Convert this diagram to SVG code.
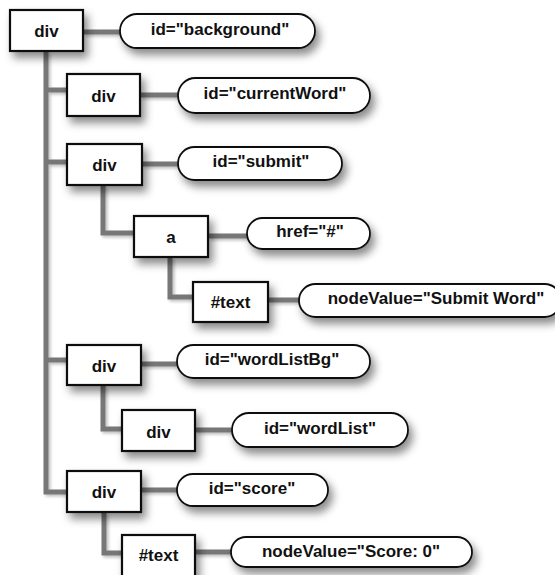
<svg xmlns="http://www.w3.org/2000/svg" width="555" height="575" viewBox="0 0 555 575">
<defs>
<filter id="sh" x="-20%" y="-30%" width="150%" height="190%">
<feDropShadow dx="4" dy="6" stdDeviation="4.5" flood-color="#000" flood-opacity="0.45"/>
</filter>
<filter id="lsh" x="-20%" y="-20%" width="140%" height="140%">
<feDropShadow dx="2" dy="2" stdDeviation="1.5" flood-color="#000" flood-opacity="0.25"/>
</filter>
</defs>
<style>
.box{fill:#fff;stroke:#111;stroke-width:2.2;filter:url(#sh)}
.ov{fill:#fff;stroke:#111;stroke-width:1.8;filter:url(#sh)}
.t{font-family:"Liberation Sans",Arial,sans-serif;font-weight:bold;font-size:17px;fill:#111;text-anchor:middle;dominant-baseline:central}
.c{fill:none;stroke:#777;stroke-width:5;stroke-linejoin:miter}
</style>
<rect width="555" height="575" fill="#fff"/>
<g id="connectors" filter="url(#lsh)">
<path class="c" d="M46,51 V492 H67"/>
<path class="c" d="M46,90 H67"/>
<path class="c" d="M46,162 H67"/>
<path class="c" d="M46,360 H67"/>
<path class="c" d="M83,32 H120"/>
<path class="c" d="M140,95 H178"/>
<path class="c" d="M142,164 H178"/>
<path class="c" d="M103,185 V233 H134"/>
<path class="c" d="M208,236 H247"/>
<path class="c" d="M170,257 V297 H193"/>
<path class="c" d="M268,300 H299"/>
<path class="c" d="M141,364 H177"/>
<path class="c" d="M103,385 V429 H122"/>
<path class="c" d="M195,430 H232"/>
<path class="c" d="M141,490 H177"/>
<path class="c" d="M104,512 V553 H122"/>
<path class="c" d="M195,552 H231"/>
</g>
<g id="n-root"><rect class="box" x="10" y="10" width="73" height="41"/><text class="t" x="46.5" y="31">div</text></g>
<g id="a-background"><rect class="ov" x="120" y="14" width="195" height="34" rx="17"/><text class="t" x="220" y="29">id="background"</text></g>
<g id="n-currentWord"><rect class="box" x="67" y="74" width="73" height="42"/><text class="t" x="103.5" y="96">div</text></g>
<g id="a-currentWord"><rect class="ov" x="178" y="78" width="192" height="35" rx="17.5"/><text class="t" x="275" y="93">id="currentWord"</text></g>
<g id="n-submit"><rect class="box" x="67" y="144" width="75" height="41"/><text class="t" x="104.5" y="165">div</text></g>
<g id="a-submit"><rect class="ov" x="178" y="147" width="164" height="33" rx="16.5"/><text class="t" x="261" y="161">id="submit"</text></g>
<g id="n-a"><rect class="box" x="134" y="216" width="74" height="41"/><text class="t" x="171" y="237">a</text></g>
<g id="a-href"><rect class="ov" x="247" y="218" width="123" height="31" rx="15.5"/><text class="t" x="310" y="231">href="#"</text></g>
<g id="n-text1"><rect class="box" x="193" y="282" width="75" height="40"/><text class="t" x="230.5" y="302">#text</text></g>
<g id="a-nodeValue1"><rect class="ov" x="299" y="284" width="262" height="33" rx="16.5"/><text class="t" x="436" y="298">nodeValue="Submit Word"</text></g>
<g id="n-wordListBg"><rect class="box" x="67" y="345" width="74" height="40"/><text class="t" x="104" y="366">div</text></g>
<g id="a-wordListBg"><rect class="ov" x="177" y="345" width="193" height="33" rx="16.5"/><text class="t" x="272" y="359">id="wordListBg"</text></g>
<g id="n-wordList"><rect class="box" x="122" y="410" width="73" height="41"/><text class="t" x="158.5" y="432">div</text></g>
<g id="a-wordList"><rect class="ov" x="232" y="413" width="176" height="34" rx="17"/><text class="t" x="320" y="428">id="wordList"</text></g>
<g id="n-score"><rect class="box" x="67" y="471" width="74" height="41"/><text class="t" x="104" y="492">div</text></g>
<g id="a-score"><rect class="ov" x="177" y="474" width="151" height="32" rx="16"/><text class="t" x="252" y="488">id="score"</text></g>
<g id="n-text2"><rect class="box" x="122" y="535" width="73" height="44"/><text class="t" x="158.5" y="555">#text</text></g>
<g id="a-nodeValue2"><rect class="ov" x="231" y="537" width="241" height="30" rx="15"/><text class="t" x="351" y="551">nodeValue="Score: 0"</text></g>
</svg>
